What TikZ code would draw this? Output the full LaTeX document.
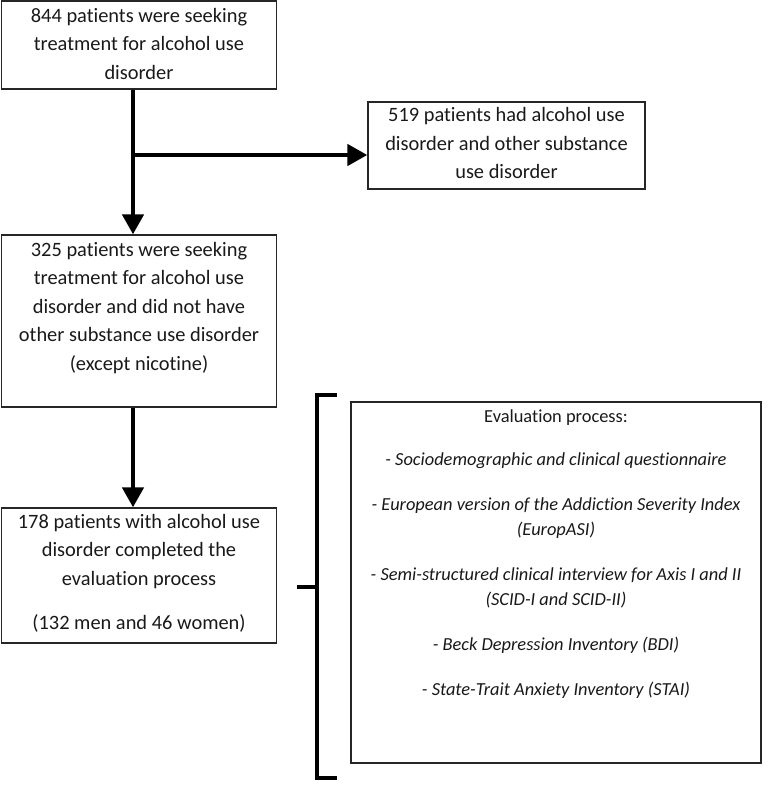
\documentclass[tikz,border=0pt]{standalone}
\usepackage{fontspec}
\setmainfont{Carlito}[Ligatures={NoCommon,NoContextual,NoRare}]
\usetikzlibrary{arrows.meta}
\begin{document}
\begin{tikzpicture}[x=1pt,y=-1pt,
  box/.style={draw=black!85, line width=1.3pt, inner sep=0pt},
  txt/.style={align=center, inner sep=0pt, text=black!90, font=\fontsize{20.4}{28.5}\selectfont},
  evtxt/.style={align=center, inner sep=0pt, text=black!90, font=\fontsize{18.4}{25}\selectfont},
  arr/.style={line width=4.5pt, -{Triangle[length=20pt,width=21pt]}},
  brk/.style={line width=4pt},
]
\useasboundingbox (0,0) rectangle (772,796);
% boxes
\node[box, minimum width=275, minimum height=88] (b1) at (139,45) {};
\node[box, minimum width=275, minimum height=172] (b2) at (139,321) {};
\node[box, minimum width=277, minimum height=87] (b3) at (506.5,145.5) {};
\node[box, minimum width=275, minimum height=135] (b4) at (139,575.5) {};
\node[box, minimum width=410, minimum height=361] (b5) at (556,582.5) {};
% texts
\node[txt] (t1) at (139,43.5) {844 patients were seeking\\treatment for alcohol use\\disorder};
\node[txt] (t2) at (139,308) {325 patients were seeking\\treatment for alcohol use\\disorder and did not have\\other substance use disorder\\(except nicotine)};
\node[txt] (t3) at (506.5,143) {519 patients had alcohol use\\disorder and other substance\\use disorder};
\node[txt] (t4) at (139,573.5) {178 patients with alcohol use\\disorder completed the\\evaluation process\\[16pt](132 men and 46 women)};
\node[evtxt] (t5) at (556,554.5) {Evaluation process:\\[18pt]
\textit{- Sociodemographic and clinical questionnaire}\\[20pt]
\textit{- European version of the Addiction Severity Index}\\
\textit{(EuropASI)}\\[20pt]
\textit{- Semi-structured clinical interview for Axis I and II}\\
\textit{(SCID-I and SCID-II)}\\[20pt]
\textit{- Beck Depression Inventory (BDI)}\\[20pt]
\textit{- State-Trait Anxiety Inventory (STAI)}};
% arrows
\coordinate (ax) at (133,0);
\coordinate (br) at (133,155);
\draw[arr] (b1.south -| ax) -- (b2.north -| ax);
\draw[arr] (br) -- (b3.west |- br);
\draw[arr] (b2.south -| ax) -- (b4.north -| ax);
% bracket
\coordinate (kt1) at (337,395);
\coordinate (kt2) at (317,395);
\coordinate (kb2) at (317,778);
\coordinate (kb1) at (337,778);
\coordinate (km1) at (317,587);
\coordinate (km2) at (297,587);
\draw[brk] (kt1) -- (kt2) -- (kb2) -- (kb1);
\draw[brk] (km1) -- (km2);
\end{tikzpicture}
\end{document}
